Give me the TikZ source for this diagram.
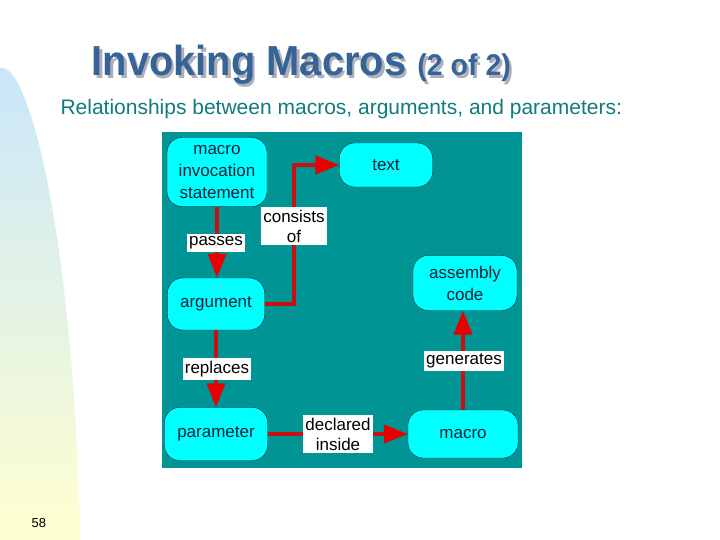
\documentclass[tikz,border=0pt]{standalone}
\usepackage{fontspec}
\setmainfont{Liberation Sans}
\newfontfamily\titlefont[FakeStretch=0.95]{Liberation Sans}
\usetikzlibrary{arrows.meta}
\definecolor{diagbg}{RGB}{0,148,148}
\definecolor{boxfill}{RGB}{0,255,255}
\definecolor{boxline}{RGB}{20,40,60}
\definecolor{boxtext}{RGB}{16,32,58}
\definecolor{linered}{RGB}{200,16,16}
\definecolor{tipred}{RGB}{232,0,0}
\definecolor{titleblue}{RGB}{55,100,150}
\definecolor{titleshadow}{RGB}{175,175,185}
\definecolor{subteal}{RGB}{16,124,124}
\definecolor{bandtop}{RGB}{200,230,250}
\definecolor{bandbot}{RGB}{255,255,208}

\begin{document}
\begin{tikzpicture}[x=1pt,y=-1pt,
  mbox/.style={draw=boxline,fill=boxfill,rounded corners=15pt,inner sep=0pt,
    align=center,text=boxtext,font=\fontsize{17}{22}\selectfont},
  lbl/.style={fill=white,inner xsep=2pt,inner ysep=3pt,align=center,
    font=\fontsize{17}{20}\selectfont},
  link/.style={draw=linered,line width=4pt,
    -{Triangle[length=24pt,width=18pt,color=tipred]}}]
\useasboundingbox (0,0) rectangle (720,540);
\fill[white] (0,0) rectangle (720,540);
% side band
\shade[top color=bandtop,bottom color=bandbot] (0,540) -- (0,68)
  .. controls (30,60) and (75,250) .. (80,540) -- cycle;
% title
\node[anchor=base west,text=titleshadow,font=\titlefont\bfseries\fontsize{42}{48}\selectfont]
  at (90.5,78.5) {Invoking Macros {\fontsize{30}{36}\selectfont (2 of 2)}};
\node[anchor=base west,text=titleblue,font=\titlefont\bfseries\fontsize{42}{48}\selectfont]
  (title) at (88,76) {Invoking Macros {\fontsize{30}{36}\selectfont (2 of 2)}};
\node[anchor=base west,text=subteal,font=\fontsize{21}{25}\selectfont]
  (subtitle) at (57,115) {Relationships between macros, arguments, and parameters:};
% diagram
\fill[diagbg] (162,132) rectangle (522,468);
\node[mbox,minimum width=100pt,minimum height=69pt] (stmt) at (217,172) {macro\\invocation\\statement};
\node[mbox,minimum width=93pt,minimum height=44pt] (text) at (386,165) {text};
\node[mbox,minimum width=97pt,minimum height=52pt] (arg) at (216,304) {argument};
\node[mbox,minimum width=104pt,minimum height=55pt] (asm) at (465,283) {assembly\\code};
\node[mbox,minimum width=103pt,minimum height=53pt] (param) at (216,434) {parameter};
\node[mbox,minimum width=110pt,minimum height=48pt] (macro) at (463,434) {macro};
% connectors
\draw[link] (stmt.south) -- (stmt.south |- arg.north);
\draw[link] (arg.east) -- ++(29,0) |- (text.west);
\draw[link] (arg.south) -- (param.north);
\draw[link] (param.east) -- (macro.west);
\draw[link] (macro.north) -- (macro.north |- asm.south);
% labels
\node[lbl] (passes) at (216,243) {passes};
\node[lbl] (consists) at (294,226) {consists\\of};
\node[lbl] (replaces) at (217,369) {replaces};
\node[lbl] (declared) at (338,434) {declared\\inside};
\node[lbl] (generates) at (464,361) {generates};
% page number
\node[anchor=base west,font=\fontsize{13}{15}\selectfont] (pagenum) at (28,527) {58};
\end{tikzpicture}
\end{document}
